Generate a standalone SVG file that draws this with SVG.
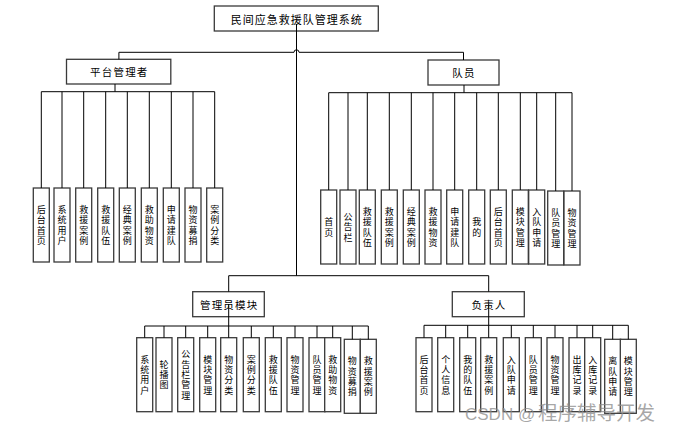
<svg xmlns="http://www.w3.org/2000/svg" width="673" height="432" viewBox="0 0 673 432">
<style>
.box{fill:#fff;stroke:#3a3a3a;stroke-width:1.3}
.ln{fill:none;stroke:#000;stroke-width:1}
.t{font-family:"Noto Sans CJK SC","Noto Sans",sans-serif;font-size:10.5px;letter-spacing:1.2px;text-anchor:middle;dominant-baseline:central;fill:#000}
.v{font-family:"Noto Sans CJK SC","Noto Sans",sans-serif;font-size:9px;letter-spacing:1.3px;writing-mode:vertical-rl;text-orientation:upright;text-anchor:middle;fill:#000}
.wm{font-family:"Liberation Sans","Noto Sans CJK SC",sans-serif;fill:#8a8a8a;fill-opacity:0.75}
</style>
<rect width="673" height="432" fill="#fff"/>

<g id="root"><rect class="box" x="214.3" y="6" width="164" height="25"/><text class="t" x="296.8" y="18.5" style="font-size:11px;letter-spacing:1px">民间应急救援队管理系统</text></g>
<g id="platform"><rect class="box" x="66.5" y="59.3" width="104.3" height="24.7"/><text class="t" x="119.3" y="71.7">平台管理者</text></g>
<g id="member"><rect class="box" x="428" y="60" width="71" height="25"/><text class="t" x="464" y="72.5">队员</text></g>
<g id="admin"><rect class="box" x="192.7" y="291.7" width="71.6" height="25"/><text class="t" x="229.2" y="304.2">管理员模块</text></g>
<g id="leader"><rect class="box" x="452.3" y="291.7" width="72" height="25"/><text class="t" x="489" y="304.2">负责人</text></g>

<g id="p-leaves">
<g id="p1"><rect class="box" x="33.3" y="188" width="16" height="74"/><text class="v" x="41.3" y="225.6">后台首页</text></g>
<g id="p2"><rect class="box" x="54" y="188" width="16" height="74"/><text class="v" x="62" y="225.6">系统用户</text></g>
<g id="p3"><rect class="box" x="75.7" y="188" width="16" height="74"/><text class="v" x="83.7" y="225.6">救援案例</text></g>
<g id="p4"><rect class="box" x="97.7" y="188" width="16" height="74"/><text class="v" x="105.7" y="225.6">救援队伍</text></g>
<g id="p5"><rect class="box" x="119.3" y="188" width="16" height="74"/><text class="v" x="127.3" y="225.6">经典案例</text></g>
<g id="p6"><rect class="box" x="141.3" y="188" width="16" height="74"/><text class="v" x="149.3" y="225.6">救助物资</text></g>
<g id="p7"><rect class="box" x="163.3" y="188" width="16" height="74"/><text class="v" x="171.3" y="225.6">申请建队</text></g>
<g id="p8"><rect class="box" x="185" y="188" width="16" height="74"/><text class="v" x="193" y="225.6">物资募捐</text></g>
<g id="p9"><rect class="box" x="206.7" y="188" width="16" height="74"/><text class="v" x="214.7" y="225.6">案例分类</text></g>
</g>

<g id="m-leaves">
<g id="m1"><rect class="box" x="320.7" y="190" width="16" height="74"/><text class="v" x="328.7" y="227.6">首页</text></g>
<g id="m2"><rect class="box" x="340" y="190" width="16" height="74"/><text class="v" x="348" y="227.6">公告栏</text></g>
<g id="m3"><rect class="box" x="359.3" y="190" width="16" height="74"/><text class="v" x="367.3" y="227.6">救援队伍</text></g>
<g id="m4"><rect class="box" x="381.3" y="190" width="16" height="74"/><text class="v" x="389.3" y="227.6">救援案例</text></g>
<g id="m5"><rect class="box" x="403.3" y="190" width="16" height="74"/><text class="v" x="411.3" y="227.6">经典案例</text></g>
<g id="m6"><rect class="box" x="425" y="190" width="16" height="74"/><text class="v" x="433" y="227.6">救援物资</text></g>
<g id="m7"><rect class="box" x="446.7" y="190" width="16" height="74"/><text class="v" x="454.7" y="227.6">申请建队</text></g>
<g id="m8"><rect class="box" x="468.7" y="190" width="16" height="74"/><text class="v" x="476.7" y="227.6">我的</text></g>
<g id="m9"><rect class="box" x="490.3" y="190" width="16" height="74"/><text class="v" x="498.3" y="227.6">后台首页</text></g>
<g id="m10"><rect class="box" x="512.3" y="190" width="16" height="74"/><text class="v" x="520.3" y="227.6">模块管理</text></g>
<g id="m11"><rect class="box" x="528.7" y="190" width="16" height="74"/><text class="v" x="536.7" y="227.6">入队申请</text></g>
<g id="m12"><rect class="box" x="547.7" y="191" width="16" height="74"/><text class="v" x="555.7" y="228.6">队员管理</text></g>
<g id="m13"><rect class="box" x="564" y="191" width="16" height="74"/><text class="v" x="572" y="228.6">物资管理</text></g>
</g>

<g id="a-leaves">
<g id="a1"><rect class="box" x="136.7" y="337.7" width="16" height="74"/><text class="v" x="144.7" y="375.3">系统用户</text></g>
<g id="a2"><rect class="box" x="156" y="337.7" width="16" height="74"/><text class="v" x="164" y="375.3">轮播图</text></g>
<g id="a3"><rect class="box" x="177.7" y="337.7" width="16" height="74"/><text class="v" x="185.7" y="375.3">公告栏管理</text></g>
<g id="a4"><rect class="box" x="199.7" y="337.7" width="16" height="74"/><text class="v" x="207.7" y="375.3">模块管理</text></g>
<g id="a5"><rect class="box" x="220.7" y="337.7" width="16" height="74"/><text class="v" x="228.7" y="375.3">物资分类</text></g>
<g id="a6"><rect class="box" x="243.3" y="337.7" width="16" height="74"/><text class="v" x="251.3" y="375.3">案例分类</text></g>
<g id="a7"><rect class="box" x="265.3" y="337.7" width="16" height="74"/><text class="v" x="273.3" y="375.3">救援队伍</text></g>
<g id="a8"><rect class="box" x="287" y="337.7" width="16" height="74"/><text class="v" x="295" y="375.3">物资管理</text></g>
<g id="a9"><rect class="box" x="309" y="337.7" width="16" height="74"/><text class="v" x="317" y="375.3">队员管理</text></g>
<g id="a10"><rect class="box" x="324.7" y="337.7" width="16" height="74"/><text class="v" x="332.7" y="375.3">救助物资</text></g>
<g id="a11"><rect class="box" x="344.3" y="339.3" width="16" height="74"/><text class="v" x="352.3" y="376.9">物资募捐</text></g>
<g id="a12"><rect class="box" x="360.3" y="339.3" width="16" height="74"/><text class="v" x="368.3" y="376.9">救援案例</text></g>
</g>

<g id="l-leaves">
<g id="l1"><rect class="box" x="416" y="337.7" width="16" height="74"/><text class="v" x="424" y="375.3">后台首页</text></g>
<g id="l2"><rect class="box" x="437.7" y="337.7" width="16" height="74"/><text class="v" x="445.7" y="375.3">个人信息</text></g>
<g id="l3"><rect class="box" x="459.7" y="337.7" width="16" height="74"/><text class="v" x="467.7" y="375.3">我的队伍</text></g>
<g id="l4"><rect class="box" x="480.7" y="337.7" width="16" height="74"/><text class="v" x="488.7" y="375.3">救援案例</text></g>
<g id="l5"><rect class="box" x="503.3" y="337.7" width="16" height="74"/><text class="v" x="511.3" y="375.3">入队申请</text></g>
<g id="l6"><rect class="box" x="525.3" y="337.7" width="16" height="74"/><text class="v" x="533.3" y="375.3">队员管理</text></g>
<g id="l7"><rect class="box" x="547" y="337.7" width="16" height="74"/><text class="v" x="555" y="375.3">物资管理</text></g>
<g id="l8"><rect class="box" x="569" y="337.7" width="16" height="74"/><text class="v" x="577" y="375.3">出库记录</text></g>
<g id="l9"><rect class="box" x="584.7" y="337.7" width="16" height="74"/><text class="v" x="592.7" y="375.3">入库记录</text></g>
<g id="l10"><rect class="box" x="604.7" y="339.3" width="16" height="74"/><text class="v" x="612.7" y="376.9">离队申请</text></g>
<g id="l11"><rect class="box" x="620.3" y="339.3" width="16" height="74"/><text class="v" x="628.3" y="376.9">模块管理</text></g>
</g>

<g id="connectors" class="ln">
<path class="ln" d="M296.5 24V275.7"/>
<path class="ln" d="M118.9 52.3H294a2.5 2.5 0 0 1 5 0H463.5"/>
<path class="ln" d="M118.9 52.3V59.3M463.5 52.3V60"/>
<path class="ln" d="M115 84V91.7M41.3 91.7H214.7M41.3 91.7V188M62 91.7V188M83.7 91.7V188M105.7 91.7V188M127.3 91.7V188M149.3 91.7V188M171.3 91.7V188M193 91.7V188M214.7 91.7V188"/>
<path class="ln" d="M464 85V92.7M328.7 92.7H572M328.7 92.7V190M348 92.7V190M367.3 92.7V190M389.3 92.7V190M411.3 92.7V190M433 92.7V190M454.7 92.7V190M476.7 92.7V190M498.3 92.7V190M520.3 92.7V190M536.7 92.7V190M555.7 92.7V191M572 92.7V191"/>
<path class="ln" d="M228.7 275.7H488.7M228.7 275.7V291.7M488.7 275.7V291.7"/>
<path class="ln" d="M228.7 304V326M144.7 326H368.3M144.7 326V337.7M164 326V337.7M185.7 326V337.7M207.7 326V337.7M228.7 326V337.7M251.3 326V337.7M273.3 326V337.7M295 326V337.7M317 326V337.7M332.7 326V337.7M352.3 326V339.3M368.3 326V339.3"/>
<path class="ln" d="M488.7 304V325.3M424 325.3H628.3M424 325.3V337.7M445.7 325.3V337.7M467.7 325.3V337.7M488.7 325.3V337.7M511.3 325.3V337.7M533.3 325.3V337.7M555 325.3V337.7M577 325.3V337.7M592.7 325.3V337.7M612.7 325.3V339.3M628.3 325.3V339.3"/>
</g>

<text class="wm" x="465" y="420" font-size="17"><tspan>CSDN @</tspan><tspan x="538" font-size="19.5" font-family="Noto Sans CJK SC, sans-serif">程序辅导开发</tspan></text>
</svg>
